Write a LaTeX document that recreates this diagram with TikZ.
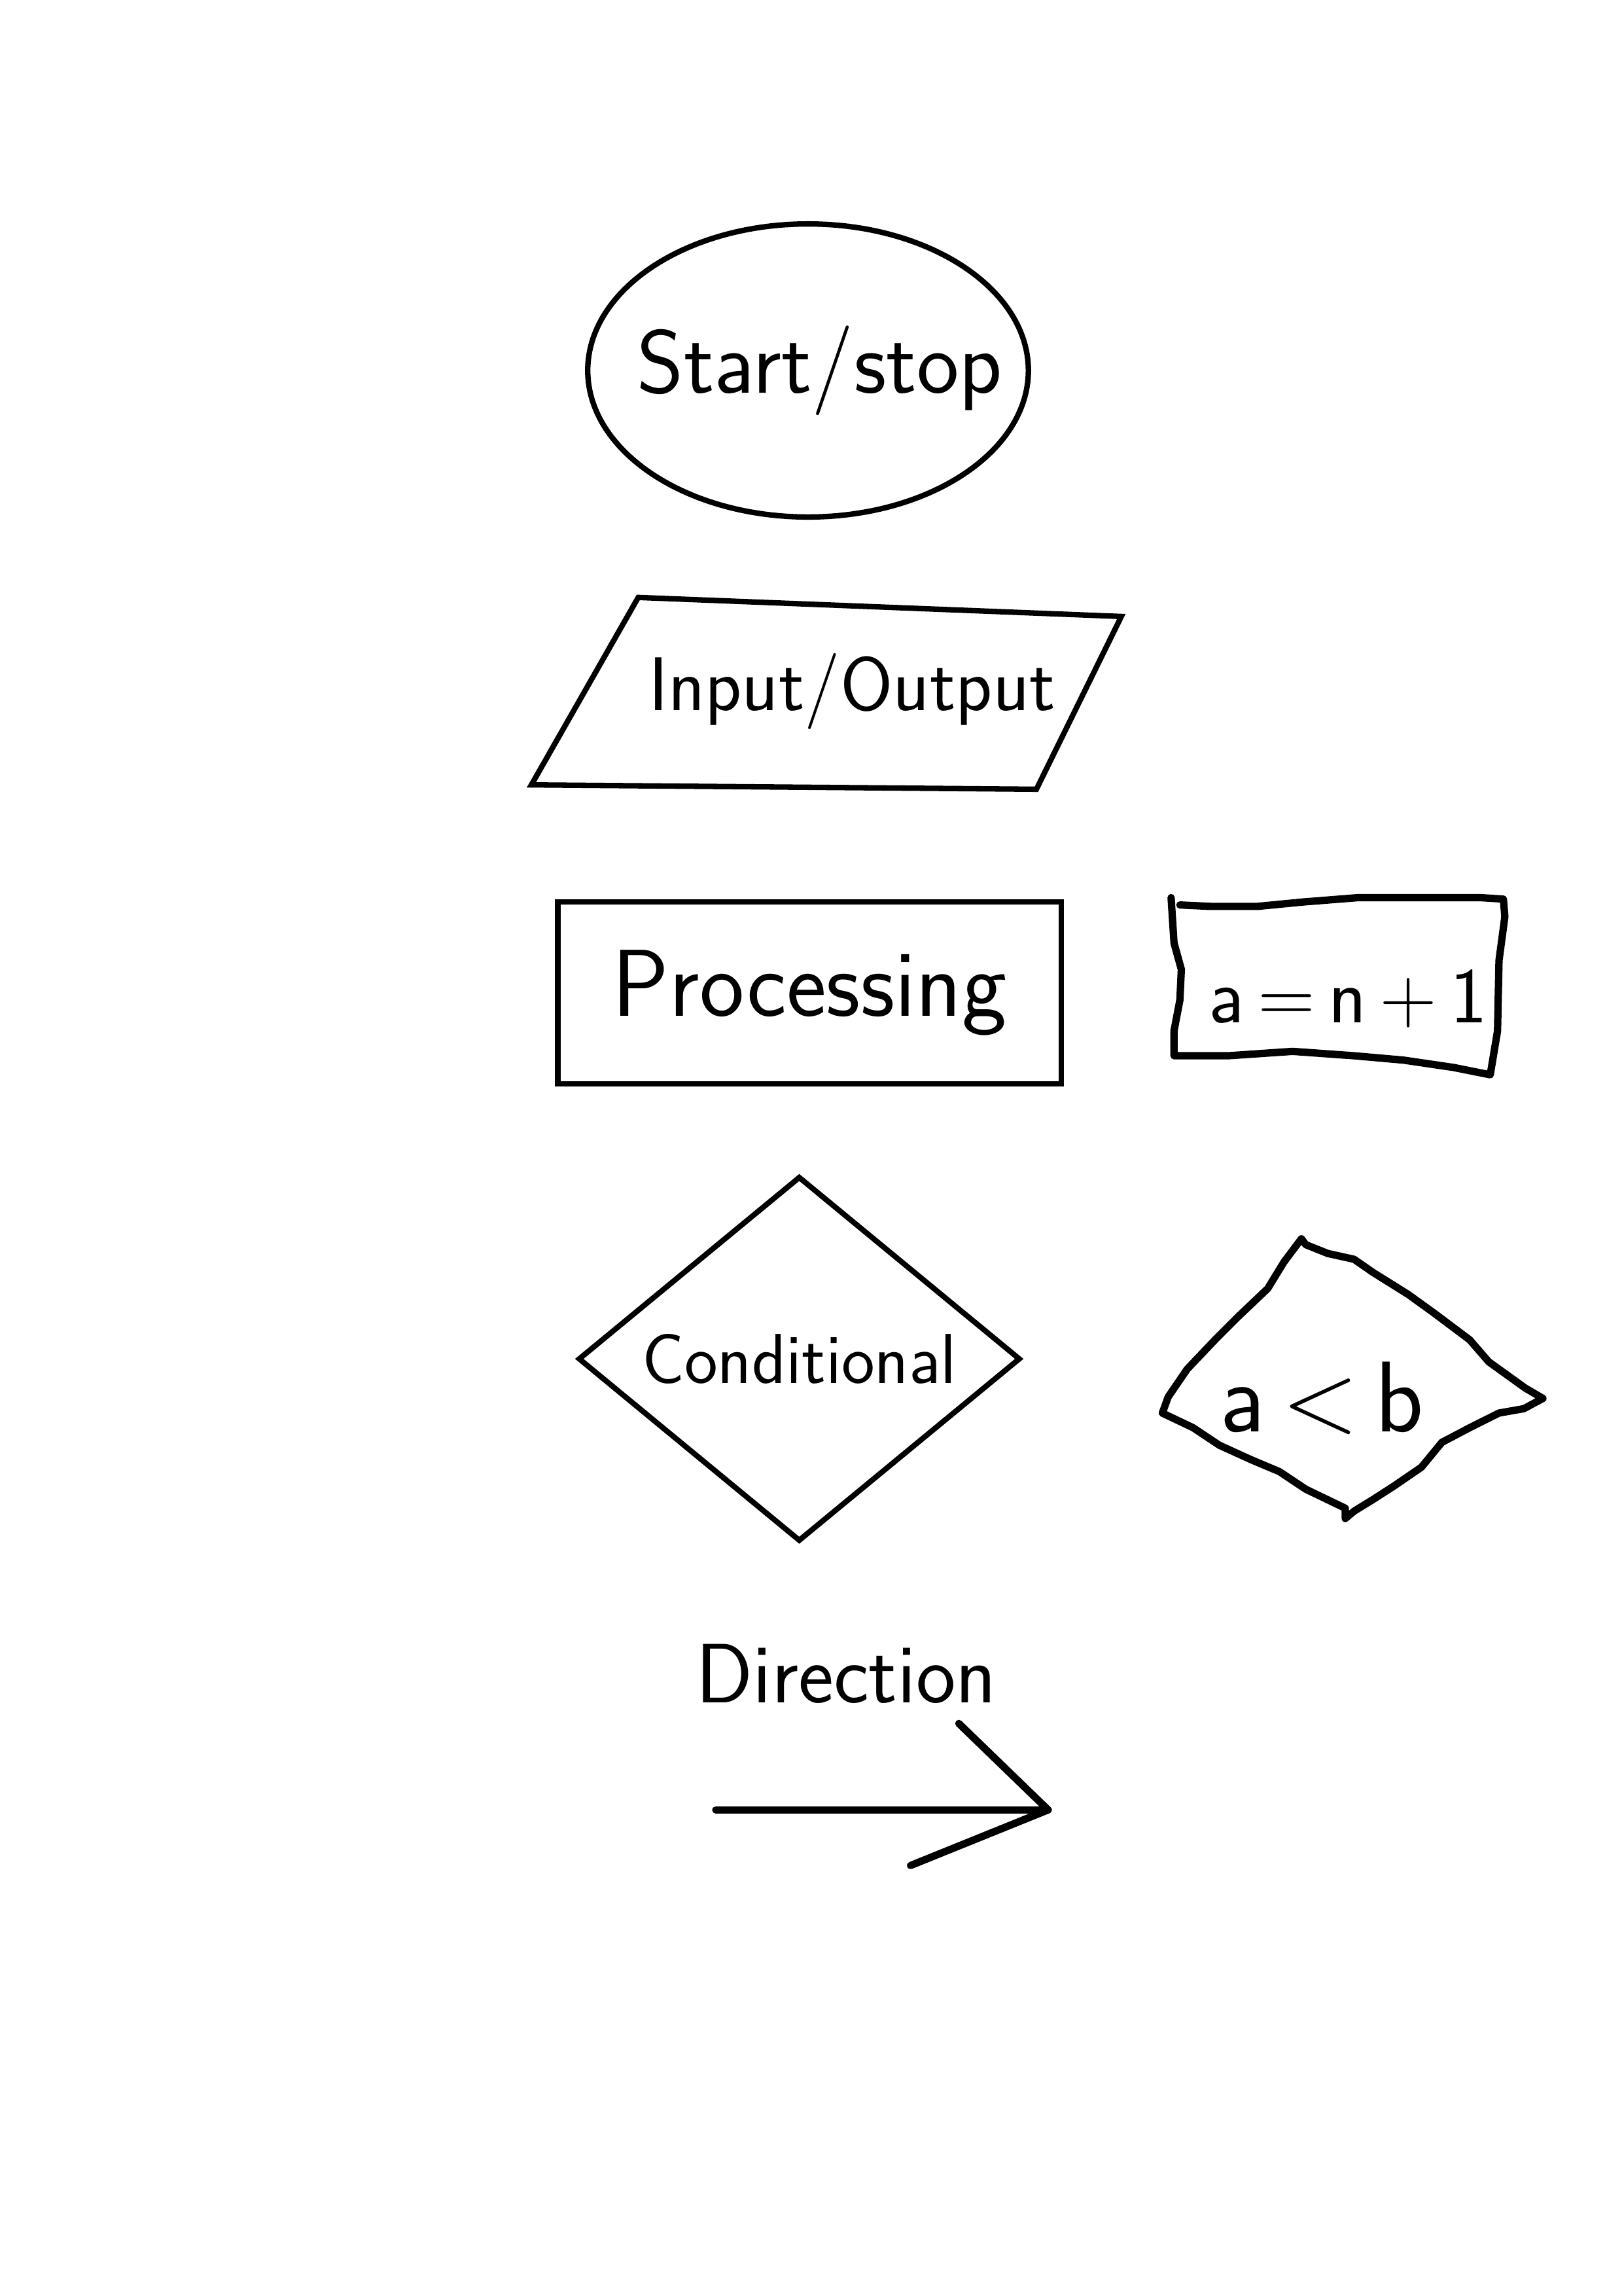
\documentclass[tikz,border=0pt]{standalone}
\usepackage{tikz}
\usetikzlibrary{shapes.geometric, calc}

\begin{document}
\begin{tikzpicture}[x=0.018936cm, y=-0.018936cm, font=\sffamily,
    outline/.style={draw, line width=2pt, inner sep=0pt},
    sketch/.style={line width=2.7pt, line join=round, line cap=round}]
  \useasboundingbox (0,0) rectangle (1109,1568);
  % left column: the standard symbols
  \node[outline, ellipse, minimum width=5.70cm, minimum height=3.79cm] (start) at (552,253)
    {\fontsize{33}{40}\selectfont\makebox[0pt]{\hspace{0.3cm}\raisebox{0.15cm}{Start/stop}}};
  \node (io) at (582,472) {\fontsize{28}{34}\selectfont Input/Output};
  \draw[outline] (436,408) -- (766,421) -- (708,539) -- (363,536) -- cycle;
  \node[outline, rectangle, minimum width=6.51cm, minimum height=2.35cm] (proc) at (553,678)
    {\fontsize{35}{42}\selectfont\makebox[0pt]{Processing}};
  \node[outline, diamond, minimum width=5.72cm, minimum height=4.72cm] (cond) at (546,928)
    {\fontsize{26}{31}\selectfont\makebox[0pt]{Conditional}};
  % right column: hand-drawn examples
  \node (assign) at (921,682) {\fontsize{29}{35}\selectfont a\,=\,n\,+\,1};
  \draw[sketch] (800,613) -- (802,644) -- (807,662) -- (806,683) -- (802,704) -- (802,721)
    -- (839,721) -- (883,718) -- (925,721) -- (959,724) -- (993,729) -- (1018,734)
    -- (1023,704) -- (1024,656) -- (1028,626) -- (1027,614)
    -- (1011,613) -- (928,613) -- (890,616) -- (859,619) -- (827,619) -- (806,618);
  \node (compare) at (903,955) {\fontsize{37}{44}\selectfont a\,<\,b};
  \draw[sketch] (889,846) -- (892,850) -- (907,856) -- (925,860) -- (938,869) -- (962,884)
    -- (980,897) -- (1004,915) -- (1017,930) -- (1042,948) -- (1054,955)
    -- (1041,962) -- (1024,965) -- (1004,975) -- (985,985) -- (971,1002) -- (952,1015)
    -- (938,1024) -- (925,1032) -- (919,1037) -- (919,1030) -- (892,1017) -- (874,1005)
    -- (855,997) -- (833,987) -- (815,975) -- (794,965) -- (798,954) -- (811,935)
    -- (830,915) -- (846,899) -- (866,880) -- (877,862) -- cycle;
  % direction
  \node (dir) at (578,1143) {\fontsize{31}{37}\selectfont Direction};
  \coordinate (dirstart) at (489,1236);
  \coordinate (dirtip) at (716,1236);
  \coordinate (barbup) at (655,1177);
  \coordinate (barblow) at (622,1274);
  \draw[sketch] (dirstart) -- (dirtip);
  \draw[sketch] (barbup) -- (dirtip) -- (barblow);
\end{tikzpicture}
\end{document}
